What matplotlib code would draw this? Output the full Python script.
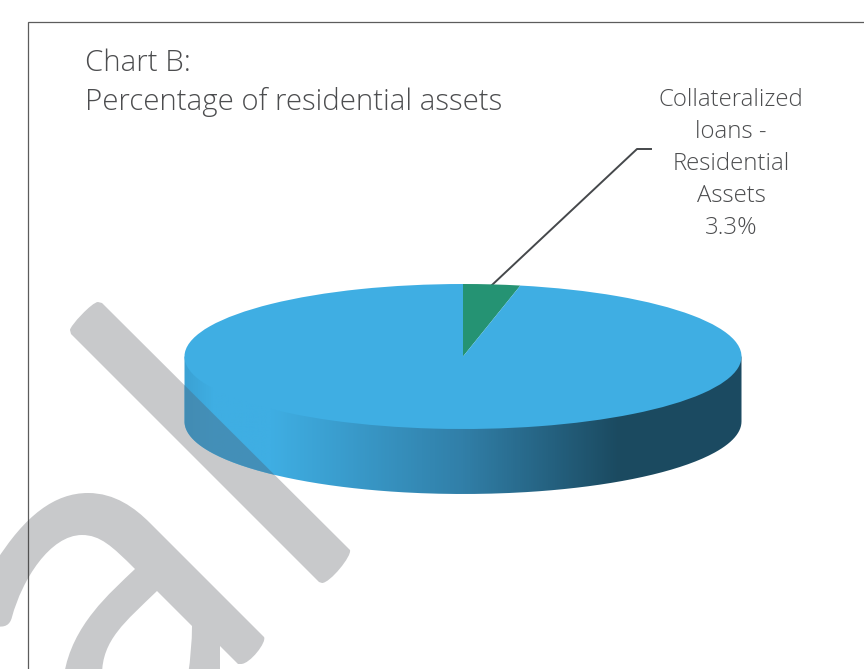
import numpy as np
import matplotlib.pyplot as plt
from matplotlib.colors import LinearSegmentedColormap
from matplotlib.patches import PathPatch
from matplotlib.path import Path

plt.rcParams['font.family'] = ['Open Sans', 'DejaVu Sans']

# data
slice_labels = ['Collateralized', 'loans -', 'Residential', 'Assets']
slice_values = [3.3, 96.7]
slice_colors = ['#259373', '#3FAEE3']
title_lines = ['Chart B:', 'Percentage of residential assets']

W, H = 864, 669
cx, cy = 463, 356.5
rx, ry = 278.5, 72.5
depth = 65

GREY = '#C8C9CB'
TEXT = '#4C4D4F'

M, L, C3, C4, Z = Path.MOVETO, Path.LINETO, Path.CURVE3, Path.CURVE4, Path.CLOSEPOLY


def make_path(start, segments):
    verts = [start]
    codes = [M]
    for seg in segments:
        if len(seg) == 1:
            verts += seg
            codes += [L]
        elif len(seg) == 2:
            verts += seg
            codes += [C3, C3]
        else:
            verts += seg
            codes += [C4, C4, C4]
    verts.append(start)
    codes.append(Z)
    return Path(verts, codes)


# diagonal bar of the logo behind the pie
bar = make_path((70, 330), [
    [(70, 326), (92, 302), (98, 302)],
    [(102, 303)],
    [(350, 550)],
    [(352, 556), (330, 583), (322, 583)],
    [(319, 582)],
    [(71, 334)],
])

# the arched letter below it
arch = make_path((-5, 563), [
    [(25, 515), (55, 493), (88, 493)],
    [(115, 493), (135, 508), (150, 523)],
    [(264, 637)],
    [(267, 642), (250, 664), (241, 664)],
    [(238, 664)],
    [(220, 646)],
    [(220, 675)],
    [(188, 675)],
    [(192, 650), (192, 626)],
    [(157, 591)],
    [(125, 622), (102, 640), (102, 675)],
    [(64, 675)],
    [(72, 625), (110, 593), (135, 569)],
    [(112, 546), (100, 535), (82, 535)],
    [(50, 535), (22, 580), (12, 617)],
    [(10, 625), (5, 628), (-5, 626)],
])

fig = plt.figure(figsize=(W / 100, H / 100), dpi=100, facecolor='white')
ax = fig.add_axes([0, 0, 1, 1], zorder=0)

ax.add_patch(PathPatch(bar, fc=GREY, ec='none'))
ax.add_patch(PathPatch(arch, fc=GREY, ec='none'))

# side wall of the disc, shaded left to right
theta = np.linspace(np.pi, 0, 200)
low_x = cx + rx * np.cos(theta)
low_y = cy + depth + ry * np.sin(theta)
wall_verts = np.vstack([[[cx - rx, cy]], np.column_stack([low_x, low_y]), [[cx + rx, cy]]])
wall = Path(wall_verts)

stops = [(184, '#3BA2D4'), (212, '#3FAEE3'), (270, '#3FAEE3'),
         (463, '#317FA8'), (620, '#1B4A60'), (742, '#1C4B62')]
span = stops[-1][0] - stops[0][0]
wall_cmap = LinearSegmentedColormap.from_list(
    'wall', [((x - stops[0][0]) / span, c) for x, c in stops])
img = ax.imshow(np.linspace(0, 1, 560).reshape(1, -1), cmap=wall_cmap, aspect='auto',
                extent=(184, 742, cy + depth + ry, cy), zorder=2)
img.set_clip_path(PathPatch(wall, transform=ax.transData))

# logo bar showing through the wall
shade = PathPatch(bar, fc='#4683A6', ec='none', alpha=0.7, zorder=3)
ax.add_patch(shade)
shade.set_clip_path(PathPatch(wall, transform=ax.transData))

# frame, open at the right and bottom
ax.plot([27.7, 27.7, W], [H, 21.7, 21.7], color='#333333', lw=0.9, alpha=0.8,
        solid_joinstyle='miter', zorder=4)

# leader from the small slice to its label
ax.plot([492, 637, 651], [285, 149, 149], color='#45484B', lw=1.4, zorder=6)

ax.text(85, 63, title_lines[0], fontsize=21.15, fontweight='light', color=TEXT, va='center')
ax.text(85, 102, title_lines[1], fontsize=21.15, fontweight='light', color=TEXT, va='center')
label_lines = slice_labels + [f'{slice_values[0]}%']
for i, line in enumerate(label_lines):
    ax.text(731, 100 + 32 * i, line, fontsize=17.3, fontweight='light', color=TEXT,
            ha='center', va='center')

ax.set_xlim(0, W)
ax.set_ylim(H, 0)
ax.axis('off')

# top face of the disc, stretched into an ellipse by its axes
pie_ax = fig.add_axes([(cx - rx) / W, (H - cy - ry) / H, 2 * rx / W, 2 * ry / H], zorder=1)
pie_ax.patch.set_alpha(0)
pie_ax.pie(slice_values, colors=slice_colors, startangle=90, counterclock=False, radius=1,
           wedgeprops={'linewidth': 0})
pie_ax.set_aspect('auto')
pie_ax.set_xlim(-1, 1)
pie_ax.set_ylim(-1, 1)

fig.savefig('out.png', dpi=100, facecolor='white')
